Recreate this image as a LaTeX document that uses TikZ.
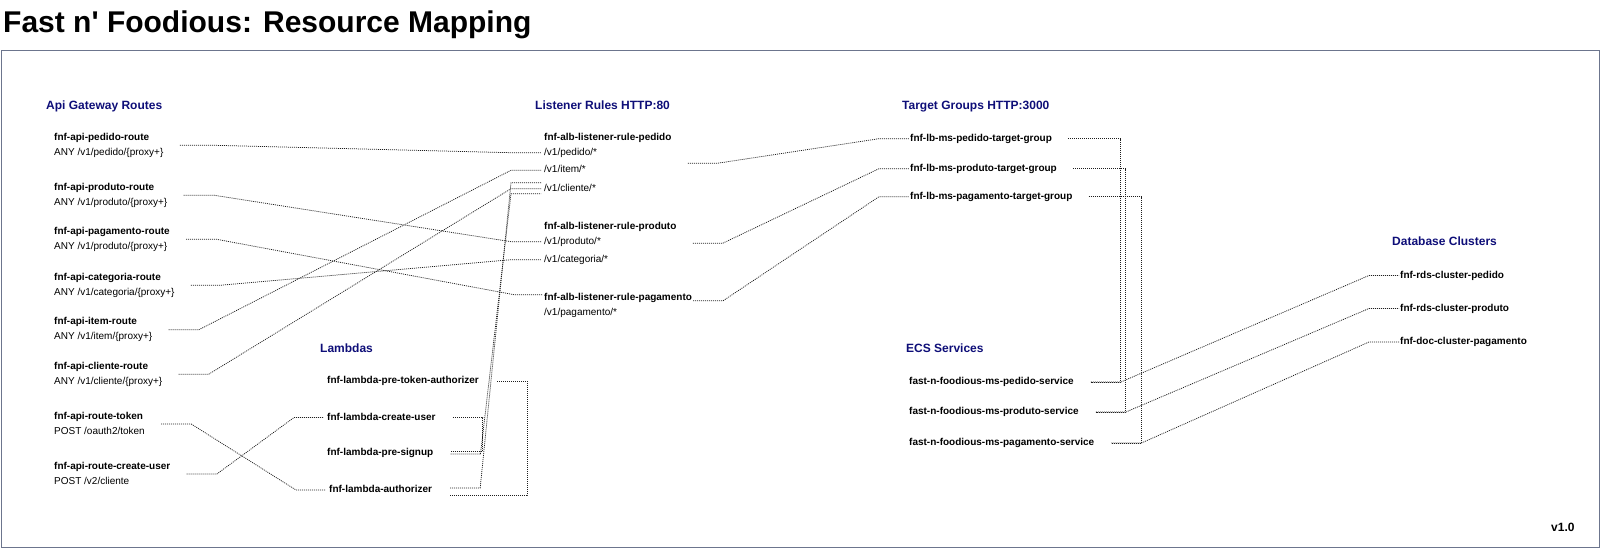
\documentclass[tikz,border=0pt]{standalone}
\usepackage{fontspec}
\setmainfont{Liberation Sans}
\newfontfamily\plainfont{Liberation Sans}
\usetikzlibrary{calc,fit}
\definecolor{hdrblue}{RGB}{14,14,120}
\definecolor{framecol}{RGB}{108,117,141}
\definecolor{linecol}{RGB}{30,30,30}
\begin{document}
\begin{tikzpicture}[x=1bp,y=-1bp,
  txt/.style={inner xsep=0bp, inner ysep=0bp, text height=7.3bp, text depth=2.1bp, anchor=base west, font=\fontsize{10bp}{12bp}\selectfont},
  btxt/.style={txt, font=\fontsize{10bp}{12bp}\selectfont\bfseries},
  hdr/.style={inner sep=0bp, anchor=base west, text=hdrblue, font=\fontsize{12bp}{14bp}\selectfont\bfseries},
  grp/.style={inner xsep=16bp, inner ysep=0bp},
  conn/.style={draw=linecol, line width=0.75bp, dash pattern=on 1bp off 1bp},
]
\useasboundingbox (0,0) rectangle (1601,549);
\draw[framecol, line width=1bp] (1.5,50.5) rectangle (1599.5,547.5);

% title and headers
\node[inner sep=0bp, anchor=base west, font=\plainfont\fontsize{30bp}{34bp}\selectfont\bfseries] (title) at (3,33) {Fast n' Foodious: Resource Mapping};
\node[hdr] (hApi) at (46,109.3) {Api Gateway Routes};
\node[hdr] (hLis) at (535,109.3) {Listener Rules HTTP:80};
\node[hdr] (hTG) at (902,109.3) {Target Groups HTTP:3000};
\node[hdr] (hDB) at (1392,246) {Database Clusters};
\node[hdr] (hECS) at (906,352.3) {ECS Services};
\node[hdr] (hLam) at (320,352.3) {Lambdas};
\node[inner sep=0bp, anchor=base west, font=\fontsize{12bp}{14bp}\selectfont\bfseries] (ver) at (1551,531) {v1.0};

% API gateway routes
\node[btxt] (rPedN) at (54,140.3) {fnf-api-pedido-route};
\node[txt] (rPedP) at (54,155.3) {ANY /v1/pedido/\{proxy+\}};
\node[grp, fit=(rPedN)(rPedP)] (rPed) {};
\node[btxt] (rProN) at (54,190.3) {fnf-api-produto-route};
\node[txt] (rProP) at (54,205.3) {ANY /v1/produto/\{proxy+\}};
\node[grp, fit=(rProN)(rProP)] (rPro) {};
\node[btxt] (rPagN) at (54,234.3) {fnf-api-pagamento-route};
\node[txt] (rPagP) at (54,249.3) {ANY /v1/produto/\{proxy+\}};
\node[grp, fit=(rPagN)(rPagP)] (rPag) {};
\node[btxt] (rCatN) at (54,280.3) {fnf-api-categoria-route};
\node[txt] (rCatP) at (54,295.3) {ANY /v1/categoria/\{proxy+\}};
\node[grp, fit=(rCatN)(rCatP)] (rCat) {};
\node[btxt] (rItemN) at (54,324.9) {fnf-api-item-route};
\node[txt] (rItemP) at (54,339.9) {ANY /v1/item/\{proxy+\}};
\node[grp, fit=(rItemN)(rItemP)] (rItem) {};
\node[btxt] (rCliN) at (54,369.3) {fnf-api-cliente-route};
\node[txt] (rCliP) at (54,384.3) {ANY /v1/cliente/\{proxy+\}};
\node[grp, fit=(rCliN)(rCliP)] (rCli) {};
\node[btxt] (rTokN) at (54,419.1) {fnf-api-route-token};
\node[txt] (rTokP) at (54,434.1) {POST /oauth2/token};
\node[grp, fit=(rTokN)(rTokP)] (rTok) {};
\node[btxt] (rCUN) at (54,469.2) {fnf-api-route-create-user};
\node[txt] (rCUP) at (54,484.2) {POST /v2/cliente};
\node[grp, fit=(rCUN)(rCUP)] (rCU) {};

% listener rules
\node[btxt, inner xsep=1bp] (lrPedN) at (543,140.3) {fnf-alb-listener-rule-pedido};
\node[txt, inner xsep=3bp] (lpPed) at (541,155.3) {/v1/pedido/*};
\node[txt, inner xsep=3bp] (lpItem) at (541,172.9) {/v1/item/*};
\node[txt, inner xsep=3bp] (lpCli) at (541,191.3) {/v1/cliente/*};
\node[btxt, inner xsep=1bp] (lrProN) at (543,229.3) {fnf-alb-listener-rule-produto};
\node[txt, inner xsep=3bp] (lpPro) at (541,244.3) {/v1/produto/*};
\node[txt, inner xsep=3bp] (lpCat) at (541,262.3) {/v1/categoria/*};
\node[btxt, inner xsep=1bp] (lrPagN) at (543,300.3) {fnf-alb-listener-rule-pagamento};
\node[txt, inner xsep=3bp] (lpPag) at (541,315.3) {/v1/pagamento/*};
\node[fit=(lrPedN)(lpPed)(lpItem)(lpCli), inner xsep=15bp, inner ysep=0bp] (lgPed) {};
\node[fit=(lrProN)(lpPro)(lpCat), inner xsep=15bp, inner ysep=0bp] (lgPro) {};

% target groups
\node[btxt, inner xsep=1bp] (tgPed) at (909,141.3) {fnf-lb-ms-pedido-target-group};
\node[btxt, inner xsep=1bp] (tgPro) at (909,171.3) {fnf-lb-ms-produto-target-group};
\node[btxt, inner xsep=1bp] (tgPag) at (909,199.3) {fnf-lb-ms-pagamento-target-group};

% ECS services
\node[btxt, inner xsep=17bp] (svPed) at (892,384.6) {fast-n-foodious-ms-pedido-service};
\node[btxt, inner xsep=17bp] (svPro) at (892,414.6) {fast-n-foodious-ms-produto-service};
\node[btxt, inner xsep=17bp] (svPag) at (892,445.6) {fast-n-foodious-ms-pagamento-service};

% database clusters
\node[btxt, inner xsep=1bp] (dbPed) at (1399,278.1) {fnf-rds-cluster-pedido};
\node[btxt, inner xsep=1bp] (dbPro) at (1399,311.1) {fnf-rds-cluster-produto};
\node[btxt, inner xsep=1bp] (dbPag) at (1399,344.6) {fnf-doc-cluster-pagamento};

% lambdas
\node[btxt, inner xsep=3bp] (lamPT) at (324,383.6) {fnf-lambda-pre-token-authorizer};
\node[btxt, inner xsep=3bp] (lamCU) at (324,420.1) {fnf-lambda-create-user};
\node[btxt, inner xsep=3bp] (lamPS) at (324,455.6) {fnf-lambda-pre-signup};
\node[btxt, inner xsep=3bp] (lamAuth) at (326,492.6) {fnf-lambda-authorizer};

% routes -> listener rules
\draw[conn] (rPed.east) -- ++(30,0) -- ([xshift=-30bp]lpPed.west) -- (lpPed.west);
\draw[conn] (rPro.east) -- ++(30,0) -- ([xshift=-30bp]lpPro.west) -- (lpPro.west);
\draw[conn] (rPag.east) -- ++(30,0) -- ([xshift=-29bp,yshift=3bp]lrPagN.west) -- ([yshift=3bp]lrPagN.west);
\draw[conn] (rCat.east) -- ++(30,0) -- ([xshift=-30bp]lpCat.west) -- (lpCat.west);
\draw[conn] (rItem.east) -- ++(30,0) -- ([xshift=-30bp]lpItem.west) -- (lpItem.west);
\draw[conn] (rCli.east) -- ++(30,0) -- ([xshift=-30bp]lpCli.west) -- (lpCli.west);

% routes -> lambdas
\draw[conn] (rTok.east) -- ++(30,0) -- ([xshift=-30bp]lamAuth.west) -- (lamAuth.west);
\draw[conn] (rCU.east) -- ++(30,0) -- ([xshift=-30bp]lamCU.west) -- (lamCU.west);

% lambdas
\draw[conn] ([xshift=15bp]lamPT.east) -- ++(30,0) |- ([xshift=15bp,yshift=-5bp]lamAuth.east);
\draw[conn] ([xshift=14bp]lamCU.east) -- ++(30,0) |- ([xshift=14bp,yshift=2bp]lamPS.east);
\draw[conn] ([xshift=14bp,yshift=-1bp]lamPS.east) -- ++(30,0) -- ([xshift=-30bp,yshift=-5bp]lpCli.west) -- ([yshift=-5bp]lpCli.west);
\draw[conn] ([xshift=15bp,yshift=2bp]lamAuth.east) -- ++(30,0) -- ([xshift=-30bp,yshift=6bp]lpCli.west) -- ([yshift=6bp]lpCli.west);

% listener rules -> target groups
\draw[conn] (lgPed.east) -- ++(30,0) -- ([xshift=-30bp]tgPed.west) -- (tgPed.west);
\draw[conn] (lgPro.east) -- ++(30,0) -- ([xshift=-30bp]tgPro.west) -- (tgPro.west);
\draw[conn] ([yshift=-3bp]lrPagN.east) -- ++(30,0) -- ([xshift=-30bp]tgPag.west) -- (tgPag.west);

% target groups -> services
\draw[conn] ([xshift=15bp]tgPed.east) -| ([xshift=30bp]svPed.east) -- (svPed.east);
\draw[conn] ([xshift=15bp]tgPro.east) -| ([xshift=30bp]svPro.east) -- (svPro.east);
\draw[conn] ([xshift=15bp]tgPag.east) -| ([xshift=30bp]svPag.east) -- (svPag.east);

% services -> databases
\draw[conn] (svPed.east) -- ++(30,0) -- ([xshift=-30bp]dbPed.west) -- (dbPed.west);
\draw[conn] (svPro.east) -- ++(30,0) -- ([xshift=-30bp]dbPro.west) -- (dbPro.west);
\draw[conn] (svPag.east) -- ++(30,0) -- ([xshift=-30bp]dbPag.west) -- (dbPag.west);
\end{tikzpicture}
\end{document}
